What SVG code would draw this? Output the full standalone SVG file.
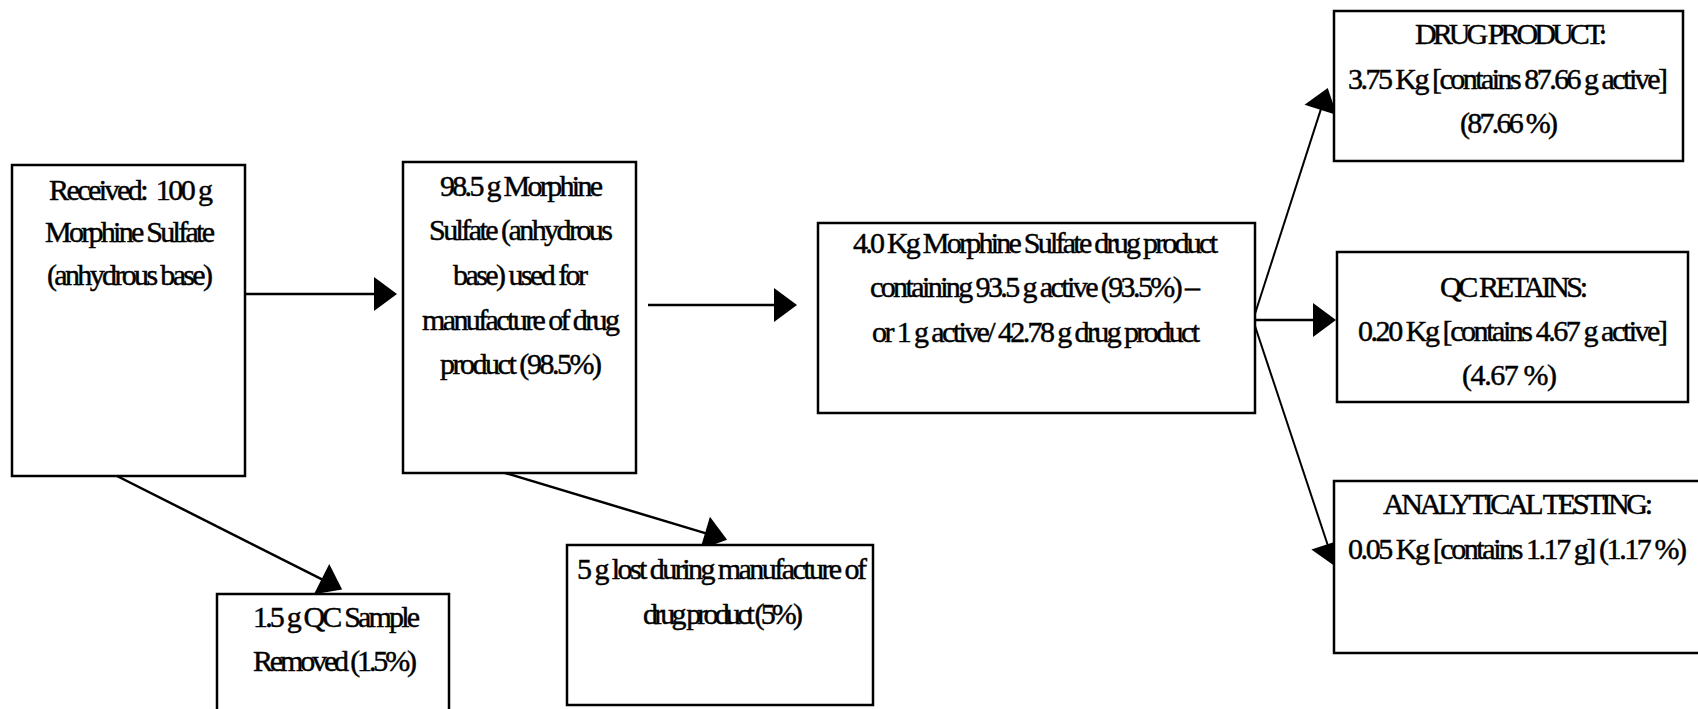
<svg xmlns="http://www.w3.org/2000/svg" width="1698" height="709" viewBox="0 0 1698 709">
<style>
.box{fill:#fff;stroke:#000;stroke-width:2.5}
.lbl{font-family:"Liberation Serif","Times New Roman",serif;font-size:30px;fill:#000;stroke:#000;stroke-width:0.45;text-anchor:middle}
.con{fill:none;stroke:#000;stroke-width:2.5}
.thin{stroke-width:2}
</style>
<defs>
<marker id="ah" markerUnits="userSpaceOnUse" markerWidth="24" markerHeight="34" refX="1" refY="17" orient="auto" overflow="visible">
<path d="M0,0 L23,17 L0,34 Z" fill="#000"/>
</marker>
</defs>
<rect width="1698" height="709" fill="#fff"/>
<g id="connectors">
<line class="con" x1="245" y1="294" x2="375" y2="294" marker-end="url(#ah)"/>
<line class="con" x1="648" y1="305" x2="775" y2="305" marker-end="url(#ah)"/>
<line class="con" x1="117" y1="476" x2="322.5" y2="579.6" marker-end="url(#ah)"/>
<line class="con" x1="502" y1="472" x2="706" y2="533.4" marker-end="url(#ah)"/>
<line class="con" x1="1253" y1="320" x2="1314" y2="320" marker-end="url(#ah)"/>
<line class="con thin" x1="1253" y1="320" x2="1321" y2="108.9" marker-end="url(#ah)"/>
<line class="con thin" x1="1253" y1="320" x2="1327.8" y2="545.2" marker-end="url(#ah)"/>
</g>
<g id="received">
<rect class="box" x="12" y="165" width="233" height="311"/>
<text class="lbl" x="131" y="200" textLength="164" lengthAdjust="spacing" style="white-space:pre">Received:  100 g</text>
<text class="lbl" x="130" y="242" textLength="170" lengthAdjust="spacing">Morphine Sulfate</text>
<text class="lbl" x="130" y="285" textLength="166" lengthAdjust="spacing">(anhydrous base)</text>
</g>
<g id="used">
<rect class="box" x="403" y="162" width="233" height="311"/>
<text class="lbl" x="521.5" y="196" textLength="163" lengthAdjust="spacing">98.5 g Morphine</text>
<text class="lbl" x="521" y="240" textLength="184" lengthAdjust="spacing">Sulfate (anhydrous</text>
<text class="lbl" x="520.5" y="285" textLength="135" lengthAdjust="spacing">base) used for</text>
<text class="lbl" x="521" y="330" textLength="198" lengthAdjust="spacing">manufacture of drug</text>
<text class="lbl" x="521" y="374" textLength="162" lengthAdjust="spacing">product (98.5%)</text>
</g>
<g id="product">
<rect class="box" x="818" y="223" width="437" height="190"/>
<text class="lbl" x="1035.5" y="253" textLength="365" lengthAdjust="spacing">4.0 Kg Morphine Sulfate drug product</text>
<text class="lbl" x="1035" y="297" textLength="330" lengthAdjust="spacing">containing 93.5 g active (93.5%) –</text>
<text class="lbl" x="1036" y="342" textLength="328" lengthAdjust="spacing">or 1 g active/ 42.78 g drug product</text>
</g>
<g id="qcsample">
<rect class="box" x="217" y="594" width="232" height="140"/>
<text class="lbl" x="336.5" y="627" textLength="167" lengthAdjust="spacing">1.5 g QC Sample</text>
<text class="lbl" x="335" y="671" textLength="164" lengthAdjust="spacing">Removed (1.5%)</text>
</g>
<g id="lost">
<rect class="box" x="567" y="545" width="306" height="160"/>
<text class="lbl" x="722" y="579" textLength="290" lengthAdjust="spacing">5 g lost during manufacture of</text>
<text class="lbl" x="723" y="624" textLength="160" lengthAdjust="spacing">drug product (5%)</text>
</g>
<g id="drugproduct">
<rect class="box" x="1334" y="11" width="349" height="150"/>
<text class="lbl" x="1511" y="44" textLength="192" lengthAdjust="spacing">DRUG PRODUCT:</text>
<text class="lbl" x="1508" y="89" textLength="320" lengthAdjust="spacing">3.75 Kg [contains 87.66 g active]</text>
<text class="lbl" x="1509" y="133" textLength="98" lengthAdjust="spacing">(87.66 %)</text>
</g>
<g id="qcretains">
<rect class="box" x="1337" y="252" width="351" height="150"/>
<text class="lbl" x="1514" y="297" textLength="148" lengthAdjust="spacing">QC RETAINS:</text>
<text class="lbl" x="1513" y="341" textLength="310" lengthAdjust="spacing">0.20 Kg [contains 4.67 g active]</text>
<text class="lbl" x="1509.5" y="385" textLength="95" lengthAdjust="spacing">(4.67 %)</text>
</g>
<g id="analytical">
<rect class="box" x="1334" y="481" width="370" height="172"/>
<text class="lbl" x="1518" y="514" textLength="270" lengthAdjust="spacing">ANALYTICAL TESTING:</text>
<text class="lbl" x="1517.5" y="559" textLength="339" lengthAdjust="spacing">0.05 Kg [contains 1.17 g] (1.17 %)</text>
</g>
</svg>
